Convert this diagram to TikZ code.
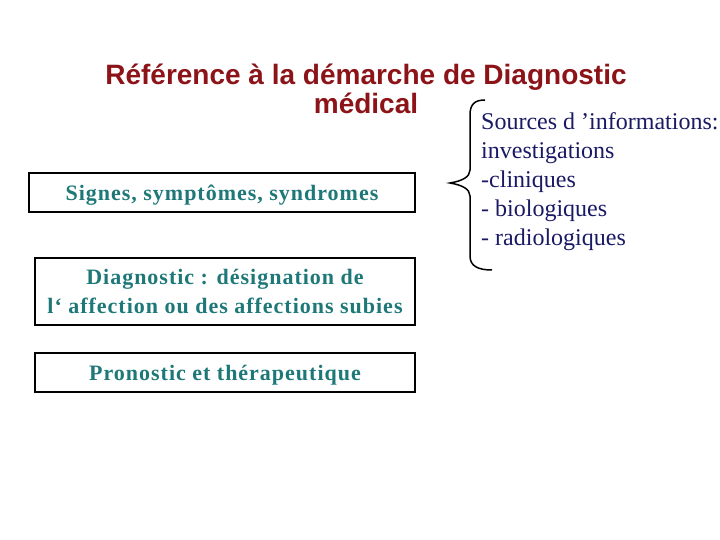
\documentclass[tikz,border=0pt]{standalone}
\usepackage{fontspec}
\setmainfont{Liberation Serif}
\setsansfont{Liberation Sans}
\newfontfamily\boxfont[LetterSpace=4.5]{Liberation Serif}
\usetikzlibrary{positioning}

\definecolor{titlered}{RGB}{140,20,25}
\definecolor{boxteal}{RGB}{30,120,120}
\definecolor{srcnavy}{RGB}{25,25,100}

\begin{document}
\begin{tikzpicture}[x=1pt, y=-1pt,
    every node/.style={inner sep=0pt},
    titletext/.style={font=\fontsize{28}{29}\selectfont\sffamily\bfseries, text=titlered, align=center},
    stagebox/.style={draw, line width=1.5pt, minimum width=380pt, align=center,
                     font=\fontsize{22}{29}\selectfont\boxfont\bfseries, text=boxteal},
    srctext/.style={font=\fontsize{24}{29}\selectfont, text=srcnavy, align=left}
]
    \useasboundingbox (0,0) rectangle (720,540);

    % Title
    \node (title) [titletext] at (366,89) {R\'ef\'erence \`a la d\'emarche de Diagnostic\\m\'edical};

    % Stages
    \node (signes) [stagebox, minimum width=386pt, minimum height=39pt, text depth=0pt] at (222,192.5) {Signes, sympt\^omes, syndromes};
    \node (diag) [stagebox, minimum height=67pt] at (225,291.5) {Diagnostic : d\'esignation de\\l‘ affection ou des affections subies};
    \node (prono) [stagebox, minimum height=39pt, text depth=0pt] at (225,372.5) {Pronostic et th\'erapeutique};

    % Sources
    \node (sources) [srctext, anchor=north west] at (481,112) {Sources d ’informations:\\investigations\\-cliniques\\- biologiques\\- radiologiques};

    % Brace
    \draw [line width=1.5pt] (485,100) .. controls (475,100) and (470,104) .. (470,115) -- (470,170)
        .. controls (470,177) and (462,181) .. (450,183)
        .. controls (462,185) and (470,189) .. (470,196) -- (470,256)
        .. controls (470,266) and (478,270) .. (492,270);

\end{tikzpicture}
\end{document}
